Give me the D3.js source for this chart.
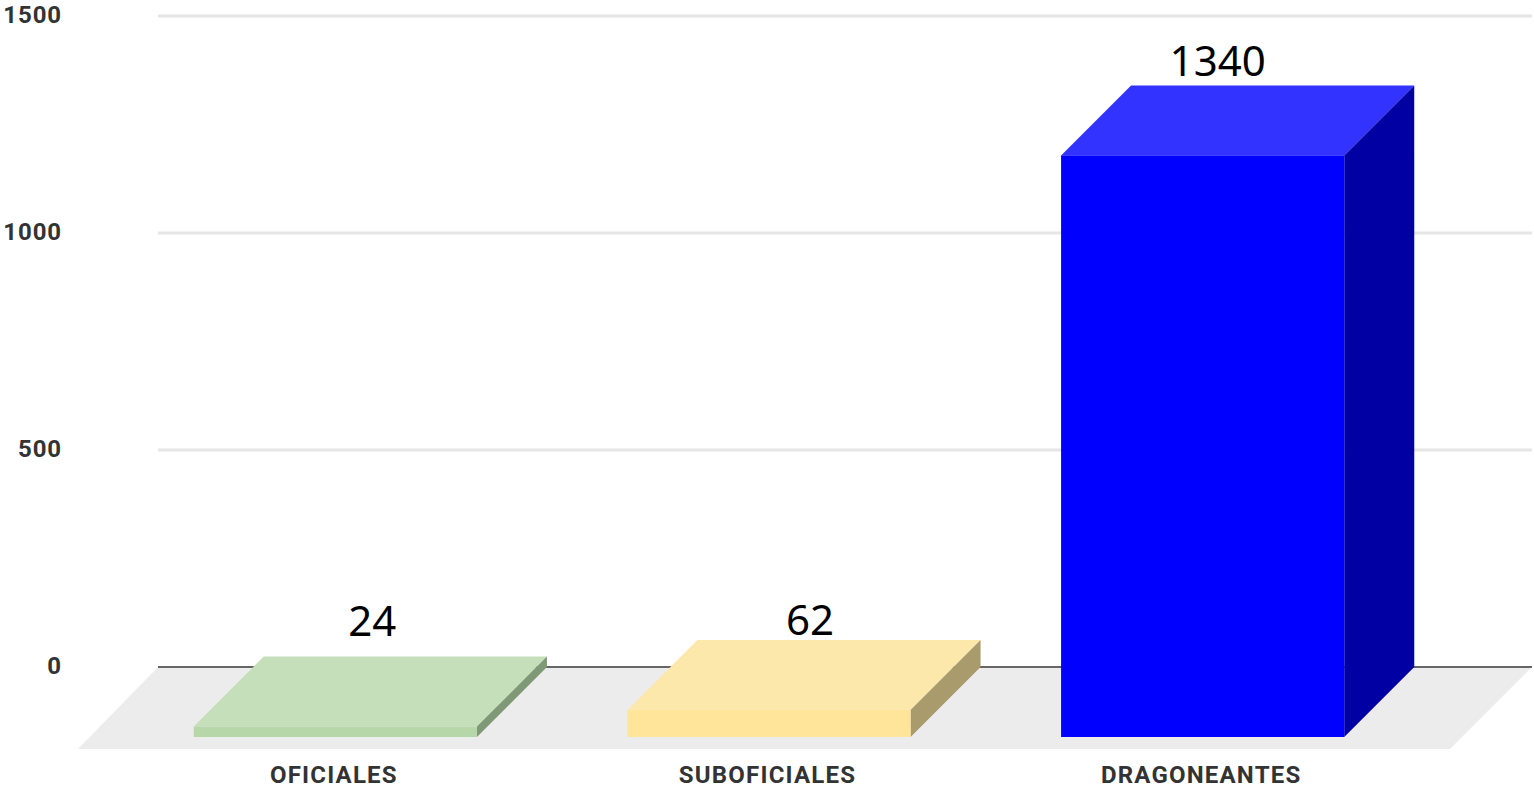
<!DOCTYPE html>
<html>
<head>
<meta charset="utf-8">
<title>Chart</title>
<script src="https://cdn.jsdelivr.net/npm/d3@7"></script>
<style>
html, body { margin: 0; padding: 0; background: #fff; overflow: hidden; }
svg { display: block; }
.tick text, .cat { font-family: Roboto, sans-serif; font-weight: 700; fill: #333; }
.val { font-family: "Noto Sans", sans-serif; fill: #000; }
</style>
</head>
<body>
<svg id="chart" width="1534" height="788"></svg>
<script>
var categories = ["OFICIALES", "SUBOFICIALES", "DRAGONEANTES"];
var values = [24, 62, 1340];
var yTicks = [0, 500, 1000, 1500];

var frontColors = ["#b6d7a8", "#ffe599", "#0000ff"];
var topColors = ["#c4dfb9", "#fde8ab", "#3333ff"];
var sideColors = ["#7f9976", "#a99b6c", "#0000a3"];
// hand placed value labels, relative to middle of the bar top
var labelNudge = [[37, -21], [41, -5], [15, -9]];

var svg = d3.select("#chart");
var plotLeft = 158, plotRight = 1532, zeroY = 667, topY = 16;
var depth = 70, floorDepth = 82;

var y = d3.scaleLinear().domain([0, 1500]).range([zeroY, topY]);
var x = d3.scaleBand().domain(categories).range([118.5, 1419.5])
	.paddingInner(0.347).paddingOuter(0.1735);

// floor
svg.append("polygon")
	.attr("points", [[plotLeft, zeroY], [plotRight, zeroY], [plotRight - floorDepth, zeroY + floorDepth], [plotLeft - floorDepth + 2, zeroY + floorDepth]].join(" "))
	.attr("fill", "#ececec");

// grid and y labels
var axis = d3.axisLeft(y).tickValues(yTicks).tickFormat(d3.format("d"))
	.tickSize(-(plotRight - plotLeft)).tickPadding(96);
var gy = svg.append("g").attr("transform", "translate(" + plotLeft + ",-0.5)").call(axis);
gy.select(".domain").remove();
gy.selectAll(".tick line")
	.attr("stroke", function(d){ return d === 0 ? "#666" : "#e6e6e6"; })
	.attr("stroke-width", function(d){ return d === 0 ? 2 : 3; });
gy.selectAll(".tick text")
	.style("font-size", "24px")
	.style("letter-spacing", "0.9px")
	.attr("dy", "0.3em");

// bars
var bars = svg.selectAll("g.bar").data(categories).enter().append("g").attr("class", "bar");
var baseY = zeroY + depth;
function barH(i){ return zeroY - y(values[i]); }

bars.append("polygon")
	.attr("fill", function(d, i){ return topColors[i]; })
	.attr("points", function(d, i){
		var l = x(d), r = l + x.bandwidth(), t = baseY - barH(i);
		return [[l, t], [r, t], [r + depth, t - depth], [l + depth, t - depth]].join(" ");
	});
bars.append("polygon")
	.attr("fill", function(d, i){ return sideColors[i]; })
	.attr("points", function(d, i){
		var r = x(d) + x.bandwidth(), t = baseY - barH(i);
		return [[r, t], [r + depth, t - depth], [r + depth, baseY - depth], [r, baseY]].join(" ");
	});
bars.append("rect")
	.attr("fill", function(d, i){ return frontColors[i]; })
	.attr("x", function(d){ return x(d); })
	.attr("y", function(d, i){ return baseY - barH(i); })
	.attr("width", x.bandwidth())
	.attr("height", function(d, i){ return barH(i); });

// value labels
bars.append("text").attr("class", "val")
	.attr("text-anchor", "middle")
	.style("font-size", "42px")
	.attr("x", function(d, i){ return x(d) + x.bandwidth() / 2 + labelNudge[i][0]; })
	.attr("y", function(d, i){ return baseY - barH(i) - depth + labelNudge[i][1]; })
	.text(function(d, i){ return values[i]; });

// category labels
svg.selectAll("text.cat").data(categories).enter().append("text").attr("class", "cat")
	.attr("text-anchor", "middle")
	.style("font-size", "24px")
	.style("letter-spacing", "1.2px")
	.attr("x", function(d){ return x(d) + x.bandwidth() / 2 - 1.5; })
	.attr("y", 783)
	.text(function(d){ return d; });
</script>
</body>
</html>
